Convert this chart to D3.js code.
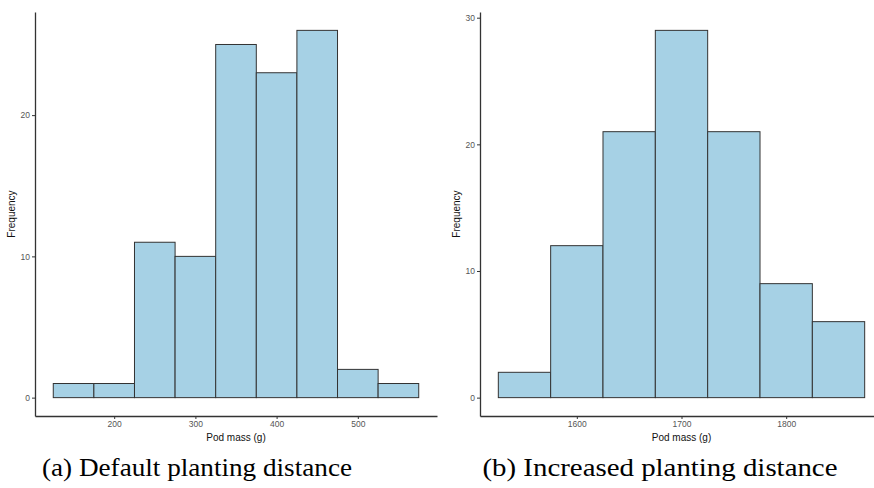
<!DOCTYPE html>
<html><head><meta charset="utf-8">
<script src="https://cdn.jsdelivr.net/npm/d3@7"></script>
<style>body{margin:0;background:#fff}svg{display:block}</style>
</head><body>
<svg id="c" width="874" height="488"></svg>
<script>
// Panel (a): default planting distance
const binStartsA = [125, 175, 225, 275, 325, 375, 425, 475, 525];
const countsA    = [1, 1, 11, 10, 25, 23, 26, 2, 1];
const xTicksA    = [200, 300, 400, 500];
const yTicksA    = [0, 10, 20];
// Panel (b): increased planting distance
const binStartsB = [1525, 1575, 1625, 1675, 1725, 1775, 1825];
const countsB    = [2, 12, 21, 29, 21, 9, 6];
const xTicksB    = [1600, 1700, 1800];
const yTicksB    = [0, 10, 20, 30];
const binWidth = 50;
const captions = ["(a) Default planting distance", "(b) Increased planting distance"];
const xTitle = "Pod mass (g)", yTitle = "Frequency";

const svg = d3.select("#c");

function panel(starts, counts, xt, yt, xr, caption, capX, capW) {
  const lo = starts[0], hi = starts[starts.length-1] + binWidth;
  const pad = (hi - lo) * 0.05;
  const ymax = d3.max(counts), ypad = ymax * 0.05;
  const x = d3.scaleLinear().domain([lo - pad, hi + pad]).range(xr);
  const y = d3.scaleLinear().domain([-ypad, ymax + ypad]).range([416, 12]);
  const g = svg.append("g");
  g.selectAll("rect").data(starts).join("rect")
    .attr("x", (d) => x(d))
    .attr("width", x(d3.min(starts) + binWidth) - x(d3.min(starts)))
    .attr("y", (d, i) => y(counts[i]))
    .attr("height", (d, i) => y(0) - y(counts[i]))
    .attr("fill", "#a6d1e5").attr("stroke", "#333").attr("stroke-width", 1);

  const xa = g.append("g").attr("transform", `translate(0,${y.range()[0]})`)
    .call(d3.axisBottom(x).tickValues(xt).tickFormat(d3.format("d")).tickSize(3).tickSizeOuter(0).tickPadding(2));
  const ya = g.append("g").attr("transform", `translate(${xr[0]},0)`)
    .call(d3.axisLeft(y).tickValues(yt).tickFormat(d3.format("d")).tickSize(3).tickSizeOuter(0).tickPadding(2));
  [xa, ya].forEach(a => {
    a.select(".domain").attr("stroke", "#333").attr("stroke-width", 1.3);
    a.selectAll(".tick line").attr("stroke", "#333");
    a.selectAll(".tick text").attr("fill", "#555").style("font-family", "Liberation Sans, Arial, sans-serif").style("font-size", "8.5px");
  });
  g.append("text").attr("x", (xr[0] + xr[1]) / 2).attr("y", 441)
    .attr("text-anchor", "middle").style("font-family", "Liberation Sans, Arial, sans-serif")
    .style("font-size", "10px").attr("fill", "#111").text(xTitle);
  g.append("text").attr("transform", `translate(${xr[0] - 20},214) rotate(-90)`)
    .attr("text-anchor", "middle").style("font-family", "Liberation Sans, Arial, sans-serif")
    .style("font-size", "10px").attr("fill", "#111").text(yTitle);
  g.append("text").attr("x", capX).attr("y", 476).attr("text-anchor", "middle")
    .attr("textLength", capW).attr("lengthAdjust", "spacingAndGlyphs")
    .style("font-family", "Liberation Serif, DejaVu Serif, serif")
    .style("font-size", "25px").attr("fill", "#000").text(caption);
}

panel(binStartsA, countsA, xTicksA, yTicksA, [35, 437], captions[0], 197, 310);
panel(binStartsB, countsB, xTicksB, yTicksB, [480, 883], captions[1], 660, 355);
</script>
</body></html>
